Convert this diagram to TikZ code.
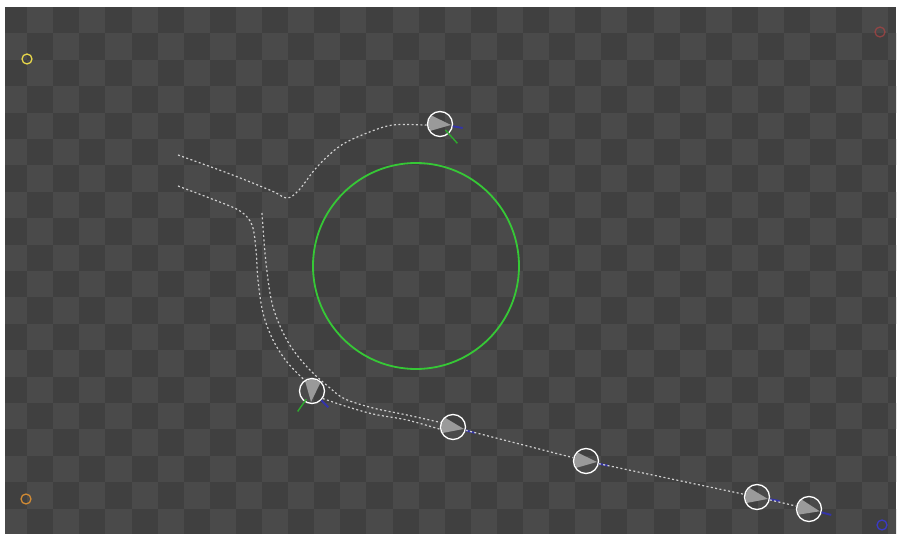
\documentclass[tikz,border=0pt]{standalone}
\usetikzlibrary{calc}
\definecolor{tdark}{HTML}{404040}
\definecolor{tlight}{HTML}{4A4A4A}
\definecolor{ringgreen}{HTML}{36C836}
\definecolor{tipblue}{HTML}{3434A8}
\definecolor{wedgegray}{HTML}{9A9A9A}
\definecolor{dotc}{HTML}{CFCFCF}
\definecolor{cyel}{HTML}{E6D64A}
\definecolor{cora}{HTML}{D08A34}
\definecolor{cred}{HTML}{B04444}
\definecolor{cblue}{HTML}{3A3AC4}
\tikzset{
  mk/.style={circle, draw=white, line width=1.3pt, minimum size=25pt, inner sep=0pt},
  wedgec/.style={fill=wedgegray},
  bluetip/.style={draw=tipblue, line width=1.9pt},
  greentip/.style={draw=ringgreen!85!black, line width=1.4pt},
  dotline/.style={draw=dotc, line width=1.2pt, dash pattern=on 2pt off 2.4pt},
  cornerc/.style={circle, line width=1.3pt, minimum size=10pt, inner sep=0pt}
}
\newcommand{\mkr}[5]{%
  \begin{scope}[shift={(#2,#3)}]
    \fill[wedgec] (#4:11) -- (#4+140:12) -- (#4+180:12.3) -- (#4+220:12) -- cycle;
  \end{scope}
  \node[mk] (#1) at (#2,#3) {};
  \begin{scope}[shift={(#2,#3)}]
    \draw[bluetip] (#5:13) -- (#5:23);
  \end{scope}
}
\begin{document}
\begin{tikzpicture}[x=1pt,y=-1pt]
\useasboundingbox (0,0) rectangle (898,534);
\fill[white] (0,0) rectangle (898,534);
\begin{scope}
  \clip (5,7) rectangle (896,534);
  \fill[tdark] (5,7) rectangle (896,534);
  \foreach \i in {0,...,34} {
    \foreach \j in {0,...,20} {
      \pgfmathtruncatemacro\s{mod(\i+\j,2)}
      \ifnum\s=1 \fill[tlight] ({1+26.1*\i},{7+26.4*\j}) rectangle ++(26.1,26.4); \fi
    }
  }
\end{scope}

% corner markers
\node[cornerc, draw=cyel] (cy) at (27,59) {};
\node[cornerc, draw=cred, opacity=0.7] (cr) at (880,32) {};
\node[cornerc, draw=cora] (co) at (26,499) {};
\node[cornerc, draw=cblue] (cb) at (882,525) {};

% big green circle
\node[circle, draw=ringgreen, line width=1.8pt, minimum size=206pt, inner sep=0pt] (ring) at (416,266) {};

% markers
\mkr{m1}{440}{124}{5}{10}
\mkr{m2}{312}{391}{95}{45}
\mkr{m3}{453}{427}{10}{15}
\mkr{m4}{586}{461}{5}{12}
\mkr{m5}{757}{497}{10}{10}
\mkr{m6}{809}{509}{12}{15}

% green flags
\begin{scope}[shift={(440,124)}]
  \draw[greentip] (48:8) -- (48:26);
\end{scope}
\begin{scope}[shift={(312,391)}]
  \draw[greentip] (125:10) -- (125:25);
\end{scope}

% dotted paths
\coordinate (a0) at (178,155);
\coordinate (b0) at (178,186);
\draw[dotline] plot[smooth, tension=0.55] coordinates {(a0) (230,174) (272,191) (287,198) (299,190) (317,167) (340,146) (367,133) (393,125) (m1.185)};
\draw[dotline] plot[smooth, tension=0.55] coordinates {(b0) (212,199) (240,211) (252,225) (256,250) (258,280) (263,313) (273,340) (287,362) (m2.125)};
\draw[dotline] plot[smooth, tension=0.55] coordinates {(262,213) (266,263) (273,307) (288,342) (308,368) (330,388) (345,399) (373,408) (407,415) (m3.160)};
\draw[dotline] plot[smooth, tension=0.55] coordinates {(m2.-35) (345,406) (373,414) (407,420) (m3.190)};
\draw[dotline] (m3) -- (m4);
\draw[dotline] (m4) -- (m5);
\draw[dotline] (m5) -- (m6);
\end{tikzpicture}
\end{document}
